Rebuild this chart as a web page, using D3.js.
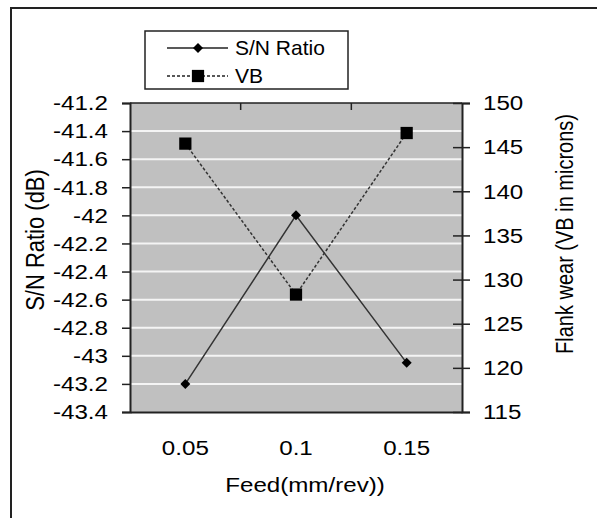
<!DOCTYPE html>
<html>
<head>
<meta charset="utf-8">
<script src="https://cdn.jsdelivr.net/npm/d3@7"></script>
<style>
  body { margin: 0; background: #fff; }
  text { font-family: "Liberation Sans", Arial, sans-serif; fill: #000; }
</style>
</head>
<body>
<svg></svg>
<script>
// data
let feeds = ["0.05", "0.1", "0.15"]
let snRatio = [-43.2, -42.0, -43.05]
let flankWear = [145.4, 128.3, 146.6]
let snTicks = [-41.2, -41.4, -41.6, -41.8, -42, -42.2, -42.4, -42.6, -42.8, -43, -43.2, -43.4]
let vbTicks = [150, 145, 140, 135, 130, 125, 120, 115]

let width = 597
let height = 518
let pLeft = 130, pRight = 462, pTop = 103, pBottom = 412
let sx = 1.15   // text in the picture is a bit wider than tall
let fs = 21

let svg = d3.select("svg").attr("width", width).attr("height", height)

// outer frame (runs off the right and bottom edges)
svg.append("rect")
   .attr("x", 11).attr("y", 8)
   .attr("width", 620).attr("height", 540)
   .attr("fill", "none").attr("stroke", "#222").attr("stroke-width", 2)

let xScale = d3.scaleBand().domain(feeds).range([pLeft, pRight])
let yLeft = d3.scaleLinear().domain([-43.4, -41.2]).range([pBottom, pTop])
let yRight = d3.scaleLinear().domain([115, 150]).range([pBottom, pTop])
let cx = f => xScale(f) + xScale.bandwidth() / 2

// plot area
svg.append("rect")
   .attr("x", pLeft).attr("y", pTop)
   .attr("width", pRight - pLeft).attr("height", pBottom - pTop)
   .attr("fill", "#c0c0c0")

svg.selectAll(".grid")
   .data(snTicks.filter(d => d > -43.4 && d < -41.2))
   .enter()
   .append("line")
   .attr("class", "grid")
   .attr("x1", pLeft).attr("x2", pRight)
   .attr("y1", d => yLeft(d)).attr("y2", d => yLeft(d))
   .attr("stroke", "#f4f4f4").attr("stroke-width", 2)

// top edge + category ticks
svg.append("line")
   .attr("x1", pLeft).attr("x2", pRight).attr("y1", pTop).attr("y2", pTop)
   .attr("stroke", "#222").attr("stroke-width", 1.5)
svg.selectAll(".cattick")
   .data(feeds.slice(1))
   .enter()
   .append("line")
   .attr("x1", d => xScale(d)).attr("x2", d => xScale(d))
   .attr("y1", pTop).attr("y2", pTop + 7)
   .attr("stroke", "#222").attr("stroke-width", 1.5)

// bottom axis
let xAxis = d3.axisBottom(xScale).tickSize(0).tickPadding(0)
let gx = svg.append("g")
   .attr("transform", "translate(0," + pBottom + ")")
   .call(xAxis)
gx.select(".domain").attr("stroke", "#222").attr("stroke-width", 2)
gx.selectAll(".tick text")
   .attr("y", 43)
   .attr("dy", 0)
   .attr("x", 0)
   .attr("font-size", fs)
   .attr("transform", "scale(" + sx + ",1)")

// left axis
let yAxis = d3.axisLeft(yLeft).tickValues(snTicks).tickSize(8)
   .tickFormat(d => String(d))
let gl = svg.append("g")
   .attr("transform", "translate(" + pLeft + ",0)")
   .call(yAxis)
gl.select(".domain").attr("stroke", "#222").attr("stroke-width", 2)
gl.selectAll(".tick line").attr("stroke", "#222").attr("stroke-width", 1.5)
gl.selectAll(".tick text")
   .attr("font-size", fs)
   .attr("x", -22 / sx)
   .attr("transform", "scale(" + sx + ",1)")

// right axis
let yAxis2 = d3.axisRight(yRight).tickValues(vbTicks).tickSize(8)
let gr = svg.append("g")
   .attr("transform", "translate(" + pRight + ",0)")
   .call(yAxis2)
gr.select(".domain").attr("stroke", "#222").attr("stroke-width", 2)
gr.selectAll(".tick line").attr("x1", -9).attr("x2", 8).attr("stroke", "#222").attr("stroke-width", 1.5)
gr.selectAll(".tick text")
   .attr("font-size", fs)
   .attr("x", 21 / sx)
   .attr("transform", "scale(" + sx + ",1)")

svg.selectAll(".domain").attr("fill", "none")
svg.selectAll(".tick text").attr("fill", "#000").attr("font-family", "Liberation Sans, Arial, sans-serif")

// lines
let snLine = d3.line()
   .x((d, i) => cx(feeds[i]))
   .y(d => yLeft(d))
let vbLine = d3.line()
   .x((d, i) => cx(feeds[i]))
   .y(d => yRight(d))

svg.append("path")
   .attr("d", vbLine(flankWear))
   .attr("fill", "none").attr("stroke", "#333").attr("stroke-width", 1.5)
   .attr("stroke-dasharray", "3,2")
svg.append("path")
   .attr("d", snLine(snRatio))
   .attr("fill", "none").attr("stroke", "#333").attr("stroke-width", 1.5)

let diamond = d3.symbol().type(d3.symbolSquare).size(50)
let square = d3.symbol().type(d3.symbolSquare).size(150)

svg.selectAll(".sn")
   .data(snRatio)
   .enter()
   .append("path")
   .attr("d", diamond)
   .attr("transform", (d, i) => "translate(" + cx(feeds[i]) + "," + yLeft(d) + ") rotate(45)")
   .attr("fill", "#000")

svg.selectAll(".vb")
   .data(flankWear)
   .enter()
   .append("path")
   .attr("d", square)
   .attr("transform", (d, i) => "translate(" + cx(feeds[i]) + "," + yRight(d) + ")")
   .attr("fill", "#000")

// axis titles
svg.append("text")
   .attr("transform", "translate(305,492) scale(" + sx + ",1)")
   .attr("text-anchor", "middle")
   .attr("font-size", fs)
   .text("Feed(mm/rev))")

svg.append("text")
   .attr("transform", "translate(35,240) rotate(-90) scale(1," + sx + ")")
   .attr("text-anchor", "middle")
   .attr("dy", "0.35em")
   .attr("font-size", 22)
   .text("S/N Ratio (dB)")

svg.append("text")
   .attr("transform", "translate(565,234) rotate(-90) scale(1," + sx + ")")
   .attr("text-anchor", "middle")
   .attr("dy", "0.35em")
   .attr("font-size", 20)
   .text("Flank wear (VB in microns)")

// legend
let legendNames = ["S/N Ratio", "VB"]
let legend = svg.append("g")
legend.append("rect")
   .attr("x", 145).attr("y", 31).attr("width", 203).attr("height", 58)
   .attr("fill", "#fff").attr("stroke", "#222").attr("stroke-width", 1.5)

let rows = legend.selectAll(".row")
   .data(legendNames)
   .enter()
   .append("g")
   .attr("transform", (d, i) => "translate(0," + (48 + i * 28) + ")")
rows.append("line")
   .attr("x1", 167).attr("x2", 228).attr("y1", 0).attr("y2", 0)
   .attr("stroke", "#222").attr("stroke-width", 1.5)
   .attr("stroke-dasharray", (d, i) => i === 1 ? "3,2" : null)
rows.append("path")
   .attr("d", (d, i) => i === 0 ? diamond() : square())
   .attr("transform", (d, i) => "translate(198,0)" + (i === 0 ? " rotate(45)" : ""))
   .attr("fill", "#000")
rows.append("text")
   .attr("transform", "translate(235,0)")
   .attr("dy", "0.35em")
   .attr("font-size", fs)
   .text(d => d)
</script>
</body>
</html>
